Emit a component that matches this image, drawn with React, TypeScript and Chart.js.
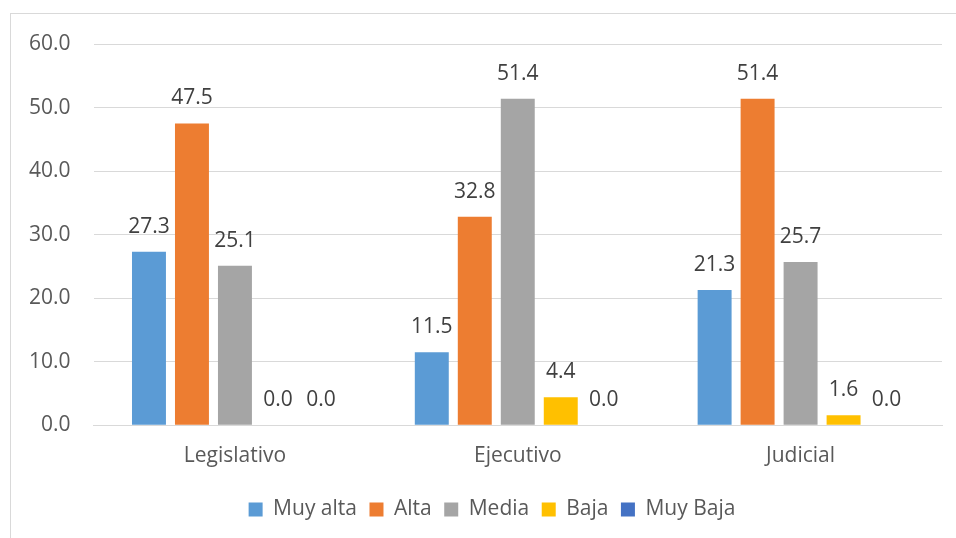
import React, { useEffect, useRef } from "react";
import { Chart, registerables } from "chart.js";

Chart.register(...registerables);

const categories = ["Legislativo", "Ejecutivo", "Judicial"];
const seriesNames = ["Muy alta", "Alta", "Media", "Baja", "Muy Baja"];
const seriesColors = ["#5B9BD5", "#ED7D31", "#A5A5A5", "#FFC000", "#4472C4"];
const muyAlta = [27.3, 11.5, 21.3];
const alta = [47.5, 32.8, 51.4];
const media = [25.1, 51.4, 25.7];
const baja = [0.0, 4.4, 1.6];
const muyBaja = [0.0, 0.0, 0.0];
const yTicks = [0, 10, 20, 30, 40, 50, 60];

const FONT = "'Open Sans', sans-serif";

const dataLabels = {
  id: "dataLabels",
  afterDatasetsDraw(chart: any) {
    const ctx = chart.ctx;
    ctx.save();
    ctx.font = `21px ${FONT}`;
    ctx.fillStyle = "#404040";
    ctx.textAlign = "center";
    ctx.textBaseline = "middle";
    chart.data.datasets.forEach((ds: any, i: number) => {
      const meta = chart.getDatasetMeta(i);
      meta.data.forEach((el: any, j: number) => {
        const v = ds.data[j] as number;
        ctx.fillText(v.toFixed(1), el.x, el.y - 25);
      });
    });
    ctx.restore();
  },
};

// shift legend so it is centred like the original chart frame
const legendShift = {
  id: "legendShift",
  afterLayout(chart: any) {
    const lg = chart.legend;
    if (lg) {
      lg.left += 18;
      lg.right += 18;
    }
  },
};

export default function App() {
  const ref = useRef<HTMLCanvasElement>(null);
  useEffect(() => {
    if (!ref.current) return;
    const all = [muyAlta, alta, media, baja, muyBaja];
    const chart = new Chart(ref.current, {
      type: "bar",
      data: {
        labels: categories,
        datasets: all.map((d, i) => ({
          label: seriesNames[i],
          data: d,
          backgroundColor: seriesColors[i],
          borderWidth: 0,
          categoryPercentage: 0.76,
          barPercentage: 0.79,
        })),
      },
      options: {
        animation: false,
        responsive: false,
        maintainAspectRatio: false,
        layout: { padding: { left: 6, right: 14, top: 44, bottom: 8 } },
        plugins: {
          tooltip: { enabled: false },
          legend: {
            position: "bottom",
            labels: {
              boxWidth: 14,
              boxHeight: 14,
              padding: 12.5,
              color: "#595959",
              font: { family: FONT, size: 21 },
            },
          },
        },
        scales: {
          x: {
            grid: { display: false, drawTicks: false },
            border: { display: true, color: "#D9D9D9", width: 1 },
            ticks: { color: "#595959", font: { family: FONT, size: 21 }, padding: 18 },
          },
          y: {
            min: 0,
            max: 60,
            afterBuildTicks: (axis: any) => {
              axis.ticks = yTicks.map((v) => ({ value: v }));
            },
            grid: { color: "#D9D9D9", lineWidth: 1, drawTicks: false },
            border: { display: false },
            ticks: {
              color: "#595959",
              font: { family: FONT, size: 21 },
              padding: 23,
              callback: (v: any) => Number(v).toFixed(1),
            },
          },
        },
      },
      plugins: [dataLabels, legendShift],
    });
    return () => chart.destroy();
  }, []);
  return (
    <div style={{ position: "absolute", left: 0, top: 0, width: 956, height: 538, overflow: "hidden", background: "#fff" }}>
      <div style={{ position: "absolute", left: 10, top: 13, width: 1000, height: 600, border: "1px solid #D9D9D9", boxSizing: "border-box" }} />
      <canvas ref={ref} width={956} height={538} style={{ position: "absolute", left: 0, top: 0 }} />
    </div>
  );
}
